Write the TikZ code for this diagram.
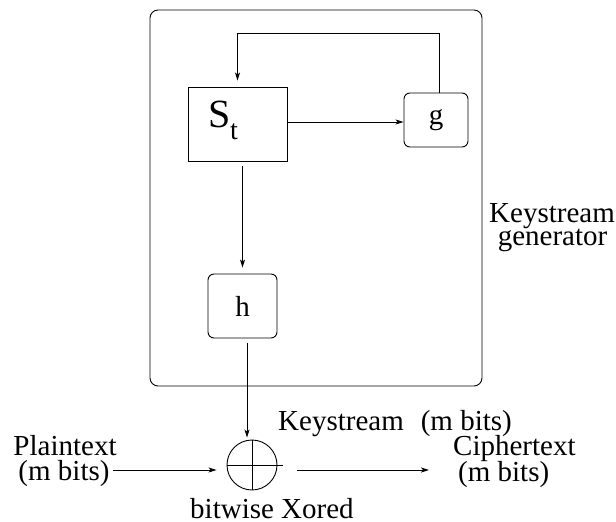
\documentclass[tikz,border=0pt]{standalone}
\usepackage{fontspec}
\setmainfont{Liberation Serif}
\usetikzlibrary{arrows.meta}
\begin{document}
\begin{tikzpicture}[x=1pt,y=-1pt,
  every node/.style={font=\fontsize{29}{29}\selectfont, inner sep=0pt},
  ln/.style={line width=0.9pt},
  arr/.style={ln,-{Stealth[length=8pt,width=5pt,inset=2pt]}},
  sqbox/.style={draw,ln,minimum width=99pt,minimum height=74pt},
  rbox/.style={draw,ln,rounded corners=6pt},
  txt/.style={anchor=base},
  txtw/.style={anchor=base west}]
\useasboundingbox (0,0) rectangle (616,522);
% outer generator box
\node[rbox, rounded corners=8pt, minimum width=332pt, minimum height=376pt] (gen) at (316,198) {};
% state box
\node[sqbox] (St) at (237.5,124) {};
\node[txtw, font=\fontsize{40}{40}\selectfont] (Sl) at (208,127) {S};
\node[txtw, font=\fontsize{28}{28}\selectfont] (tl) at (230,139) {t};
% g and h boxes
\node[rbox, minimum width=64pt, minimum height=54pt] (g) at (436,120) {g};
\node[rbox, minimum width=69pt, minimum height=64pt] (h) at (242.5,306) {h};
% xor
\node[draw, ln, circle, minimum size=50pt] (xor) at (252,465) {};
\draw[ln] (xor.west) -- ++(56,0);
\draw[ln] (xor.north) -- (xor.south);
% connectors
\draw[arr] ([yshift=2pt]St.east) -- ([yshift=2pt]St.east -| g.west);
\draw[arr] ([xshift=3pt]g.north) -- ++(0,-59) -| ([yshift=6pt]St.north);
\draw[arr, shorten <=5pt, shorten >=6pt] (St.south -| h.north) -- (h.north);
\coordinate (hx) at ([xshift=4.5pt]h.south);
\draw[arr, shorten <=5pt, shorten >=2pt] (hx) -- (hx |- xor.north);
\coordinate (pa) at (113,470);
\draw[arr, shorten >=10pt] (pa) -- (pa -| xor.west);
\coordinate (ca) at (429,470);
\draw[arr, shorten <=20pt] (ca -| xor.east) -- (ca);
% texts
\node[txt] (pt1) at (65,455) {Plaintext};
\node[txt] (pt2) at (64,480) {(m bits)};
\node[txtw] (ks) at (278,430) {Keystream\hspace{17pt}(m bits)};
\node[txtw] (ct1) at (453,455) {Ciphertext};
\node[txtw] (ct2) at (458,481) {(m bits)};
\node[txtw] (bx) at (190,518) {bitwise Xored};
\node[txt] (kg1) at (552,222) {Keystream};
\node[txt] (kg2) at (552.5,245) {generator};
\end{tikzpicture}
\end{document}
